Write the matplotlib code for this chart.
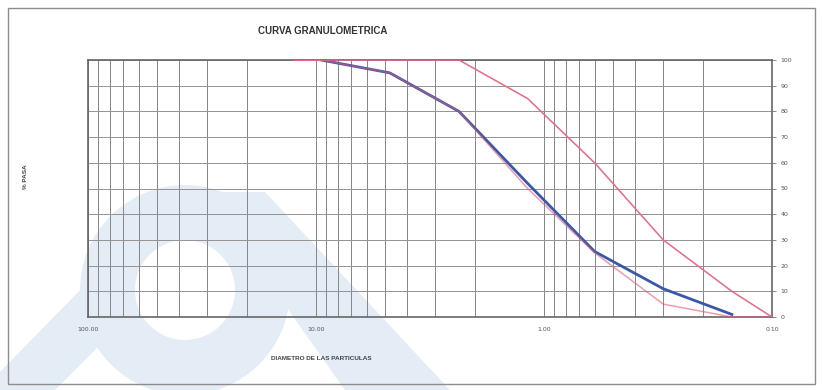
import matplotlib
matplotlib.use("Agg")
import matplotlib.pyplot as plt
from matplotlib.patches import Wedge, Polygon, Rectangle
from matplotlib.ticker import FixedLocator, NullFormatter

# abertura de tamices (mm) y % que pasa
muestra_d = [9.5, 4.75, 2.36, 1.18, 0.6, 0.3, 0.15]
muestra_pasa = [100, 95, 80, 52, 25.5, 11, 1]

lim_inf_d = [12.5, 9.5, 4.75, 2.36, 1.18, 0.6, 0.3, 0.15, 0.1]
lim_inf_pasa = [100, 100, 95, 80, 50, 25, 5, 0, 0]

lim_sup_d = [12.5, 9.5, 4.75, 2.36, 1.18, 0.6, 0.3, 0.15, 0.1]
lim_sup_pasa = [100, 100, 100, 100, 85, 60, 30, 10, 0]

x_ticks = [100, 10, 1, 0.1]
x_labels = ["100.00", "10.00", "1.00", "0.10"]
y_ticks = list(range(0, 101, 10))

W, H = 822, 390
fig = plt.figure(figsize=(W / 100, H / 100), dpi=100)
fig.patch.set_facecolor("white")


def px(x, y):
    # pixel (desde arriba) -> fraccion de figura
    return (x / W, 1 - y / H)


# marca de agua celeste
wm = "#e4ecf6"
fig.patches.append(Wedge((185, H - 290), 105, 0, 360, width=55, facecolor=wm,
                         edgecolor="none", transform=None, zorder=0))
fig.patches.append(Polygon([px(205, 192), px(265, 192), px(450, 390), px(345, 390)],
                           closed=True, facecolor=wm, edgecolor="none",
                           transform=fig.transFigure, zorder=0))
fig.patches.append(Polygon([px(85, 285), px(135, 310), px(55, 390), px(0, 390), px(0, 372)],
                           closed=True, facecolor=wm, edgecolor="none",
                           transform=fig.transFigure, zorder=0))

# marco exterior
fig.patches.append(Rectangle(px(8, 384), 807 / W, 376 / H, fill=False,
                             edgecolor="#8c8c8c", linewidth=1.0,
                             transform=fig.transFigure, zorder=1))

ax = fig.add_axes([88 / W, 1 - 317 / H, (772 - 88) / W, (317 - 60) / H])
ax.set_facecolor("none")
ax.set_zorder(2)

ax.plot(muestra_d, muestra_pasa, color="#3a58aa", linewidth=2.0, zorder=3)
ax.plot(lim_inf_d, lim_inf_pasa, color="#e05a78", linewidth=1.1, alpha=0.6, zorder=4)
ax.plot(lim_sup_d, lim_sup_pasa, color="#e86a84", linewidth=1.1, zorder=4)

ax.set_xscale("log")
ax.set_xlim(100, 0.1)
ax.set_ylim(0, 100)

ax.xaxis.set_major_locator(FixedLocator(x_ticks))
ax.set_xticklabels(x_labels)
ax.xaxis.set_minor_formatter(NullFormatter())
ax.set_yticks(y_ticks)
ax.yaxis.tick_right()

ax.tick_params(axis="x", which="both", length=0, pad=7, labelsize=4.5, labelcolor="#555555")
ax.tick_params(axis="y", length=3, width=0.6, color="#777777", pad=3,
               labelsize=4.5, labelcolor="#555555")

ax.grid(True, which="both", axis="x", color="#858585", linewidth=0.7)
ax.grid(True, which="major", axis="y", color="#939393", linewidth=0.7)
for s in ax.spines.values():
    s.set_color("#666666")
    s.set_linewidth(1.2)

fig.text(323 / W, 1 - 31 / H, "CURVA GRANULOMETRICA", ha="center", va="center",
         fontsize=7, fontweight="bold", color="#333333", family=["Liberation Sans", "DejaVu Sans"])
fig.text(321 / W, 1 - 358 / H, "DIAMETRO DE LAS PARTICULAS", ha="center", va="center",
         fontsize=4.6, fontweight="bold", color="#444444", family=["Liberation Sans", "DejaVu Sans"])
fig.text(25 / W, 1 - 177 / H, "% PASA", ha="center", va="center", rotation=90,
         fontsize=4.6, fontweight="bold", color="#444444", family=["Liberation Sans", "DejaVu Sans"])

fig.savefig("out.png", dpi=100)
